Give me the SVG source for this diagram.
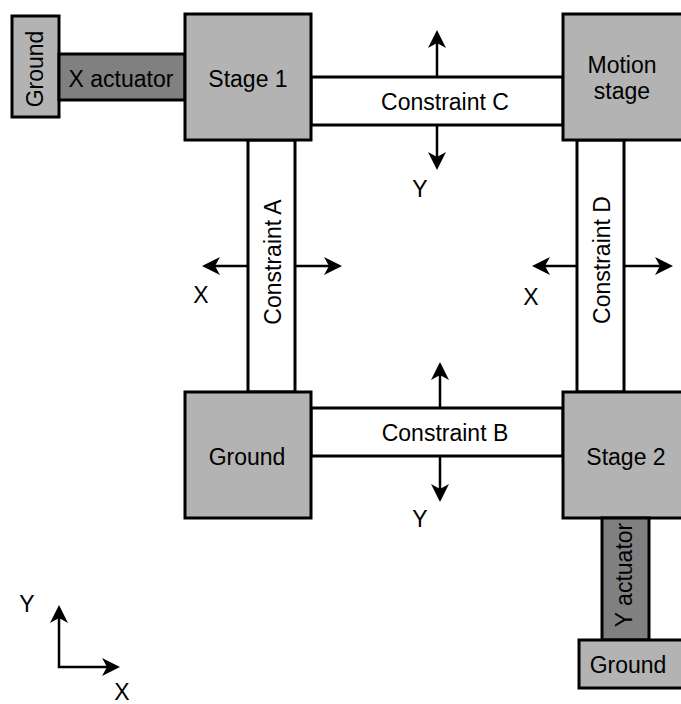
<svg xmlns="http://www.w3.org/2000/svg" width="681" height="704" viewBox="0 0 681 704">
<style>
.box{fill:#b3b3b3;stroke:#000;stroke-width:3}
.act{fill:#808080;stroke:#000;stroke-width:3}
.con{fill:#fff;stroke:#000;stroke-width:3}
.ar{stroke:#000;stroke-width:2.5;fill:none}
text{font-family:"Liberation Sans",Arial,Helvetica,sans-serif;font-size:23px;fill:#000;text-anchor:middle}
</style>
<defs>
<marker id="ah" viewBox="0 0 18 18" refX="5" refY="9" markerWidth="18" markerHeight="18" markerUnits="userSpaceOnUse" orient="auto-start-reverse">
<path d="M0,0 L18,9 L0,18 L5,9 z" fill="#000"/>
</marker>
</defs>
<rect width="681" height="704" fill="#fff"/>
<g id="constraint-c"><rect class="con" x="311" y="77" width="252" height="48"/><text x="445" y="110">Constraint C</text></g>
<g id="constraint-a"><rect class="con" x="248" y="140" width="47" height="252"/><text transform="translate(281,262) rotate(-90)">Constraint A</text></g>
<g id="constraint-d"><rect class="con" x="577" y="140" width="47" height="252"/><text transform="translate(610,260) rotate(-90)">Constraint D</text></g>
<g id="constraint-b"><rect class="con" x="311" y="408" width="252" height="48"/><text x="445" y="441">Constraint B</text></g>
<g id="ground-left"><rect class="box" x="12" y="16" width="47" height="101"/><text transform="translate(43,69) rotate(-90)">Ground</text></g>
<g id="x-actuator"><rect class="act" x="59" y="54" width="126" height="46"/><text x="121" y="87">X actuator</text></g>
<g id="stage-1"><rect class="box" x="185" y="14" width="126" height="126"/><text x="248" y="87">Stage 1</text></g>
<g id="motion-stage"><rect class="box" x="563" y="14" width="130" height="126"/><text x="622" y="73">Motion</text><text x="622" y="99">stage</text></g>
<g id="ground-center"><rect class="box" x="185" y="392" width="126" height="126"/><text x="247" y="465">Ground</text></g>
<g id="stage-2"><rect class="box" x="563" y="392" width="130" height="126"/><text x="626" y="465">Stage 2</text></g>
<g id="y-actuator"><rect class="act" x="602" y="518" width="47" height="122"/><text transform="translate(632,575) rotate(-90)">Y actuator</text></g>
<g id="ground-bottom"><rect class="box" x="579" y="640" width="110" height="48"/><text x="628" y="673">Ground</text></g>
<g id="connectors">
<line class="ar" x1="437" y1="77" x2="437" y2="43" marker-end="url(#ah)"/>
<line class="ar" x1="437" y1="125" x2="437" y2="157" marker-end="url(#ah)"/>
<line class="ar" x1="248" y1="266" x2="215" y2="266" marker-end="url(#ah)"/>
<line class="ar" x1="295" y1="266" x2="329" y2="266" marker-end="url(#ah)"/>
<line class="ar" x1="577" y1="266" x2="545" y2="266" marker-end="url(#ah)"/>
<line class="ar" x1="624" y1="266" x2="660" y2="266" marker-end="url(#ah)"/>
<line class="ar" x1="440" y1="408" x2="440" y2="375" marker-end="url(#ah)"/>
<line class="ar" x1="440" y1="456" x2="440" y2="489" marker-end="url(#ah)"/>
<path class="ar" d="M59,618 L59,667 L107,667" marker-start="url(#ah)" marker-end="url(#ah)"/>
</g>
<g id="labels">
<text x="420" y="197">Y</text>
<text x="420" y="527">Y</text>
<text x="201" y="303">X</text>
<text x="531" y="305">X</text>
<text x="27" y="612">Y</text>
<text x="122" y="700">X</text>
</g>
</svg>
